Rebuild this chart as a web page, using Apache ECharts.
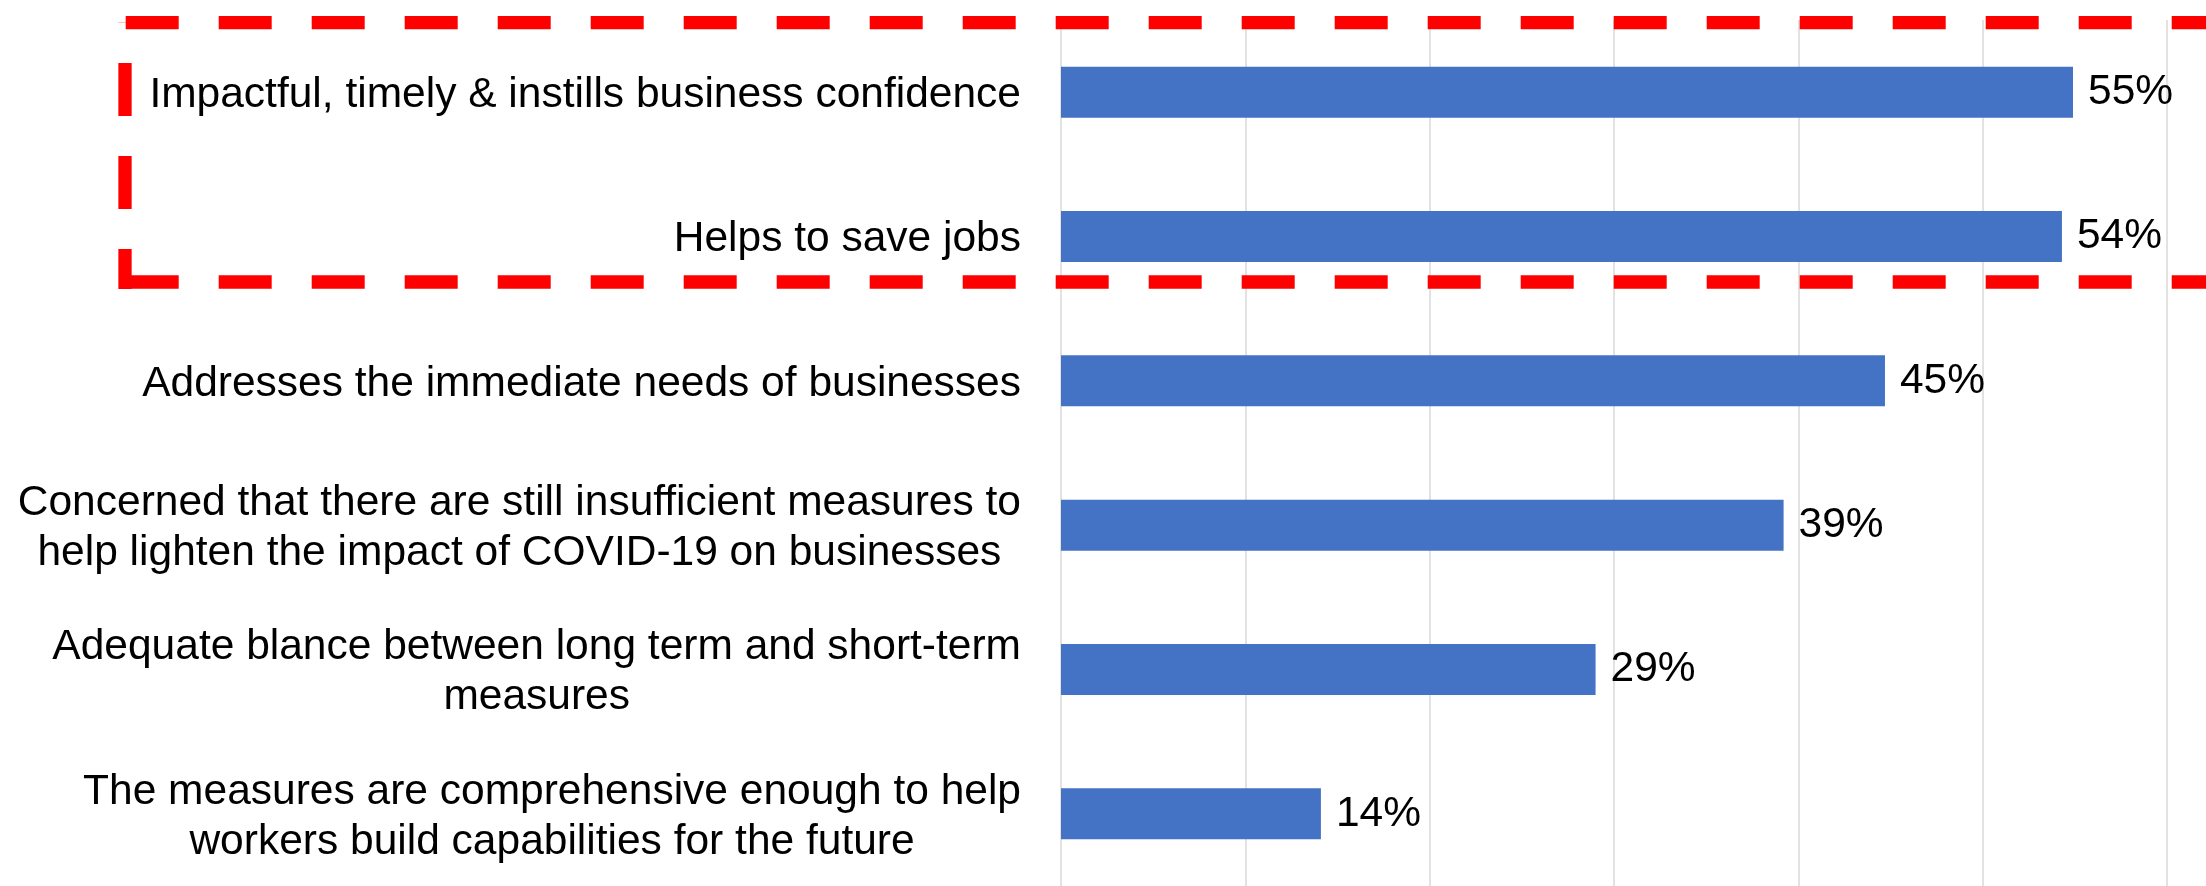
<!DOCTYPE html>
<html>
<head>
<meta charset="utf-8">
<script src="https://cdn.jsdelivr.net/npm/echarts@6/dist/echarts.min.js"></script>
<style>
html,body{margin:0;padding:0;background:#fff;}
#chart{width:2206px;height:886px;}
</style>
</head>
<body>
<div id="chart"></div>
<script>
const categories = [
  "Impactful, timely & instills business confidence",
  "Helps to save jobs",
  "Addresses the immediate needs of businesses",
  "Concerned that there are still insufficient measures to\nhelp lighten the impact of COVID-19 on businesses",
  "Adequate blance between long term and short-term\nmeasures",
  "The measures are comprehensive enough to help\nworkers build capabilities for the future"
];
const values = [54.9, 54.3, 44.7, 39.2, 29.0, 14.1];
const axisMin = 0, axisMax = 60, axisInterval = 10;

const chart = echarts.init(document.getElementById('chart'));
const FONT = '"Liberation Sans", Arial, sans-serif';
const red = '#ff0000';

chart.setOption({
  animation: false,
  backgroundColor: '#ffffff',
  grid: { left: 1061, right: 39, top: 20, height: 870, containLabel: false },
  xAxis: {
    type: 'value', min: axisMin, max: axisMax, interval: axisInterval,
    axisLabel: { show: false }, axisTick: { show: false }, axisLine: { show: false },
    splitLine: { show: true, lineStyle: { color: '#d9d9d9', width: 1.5 } }
  },
  yAxis: {
    type: 'category', data: categories, inverse: true,
    axisLine: { show: false }, axisTick: { show: false },
    axisLabel: {
      margin: 40, align: 'right', padding: [6, 0, 0, 0],
      formatter: function (v) {
        return v.split('\n').map(function (l) { return '{c|' + l + '}'; }).join('\n');
      },
      rich: { c: { align: 'center', fontSize: 42.5, lineHeight: 50, fontFamily: FONT, color: '#000' } }
    }
  },
  series: [{
    type: 'bar', data: values, barWidth: 51,
    itemStyle: { color: '#4472C4' },
    label: {
      show: true, position: 'right', distance: 15, padding: [4, 0, 0, 0],
      formatter: function (p) { return Math.round(p.value) + '%'; },
      fontSize: 42.5, fontFamily: FONT, color: '#000'
    }
  }],
  graphic: [
    { type: 'line', z: 100, shape: { x1: 125.7, y1: 22.7, x2: 2230, y2: 22.7 },
      style: { stroke: red, lineWidth: 13.3, lineDash: [53, 40] } },
    { type: 'line', z: 100, shape: { x1: 125.7, y1: 282, x2: 2230, y2: 282 },
      style: { stroke: red, lineWidth: 13.3, lineDash: [53, 40] } },
    { type: 'line', z: 100, shape: { x1: 125, y1: 289, x2: 125, y2: 22.7 },
      style: { stroke: red, lineWidth: 13.3, lineDash: [53, 40], lineDashOffset: 13 } }
  ]
});
</script>
</body>
</html>
